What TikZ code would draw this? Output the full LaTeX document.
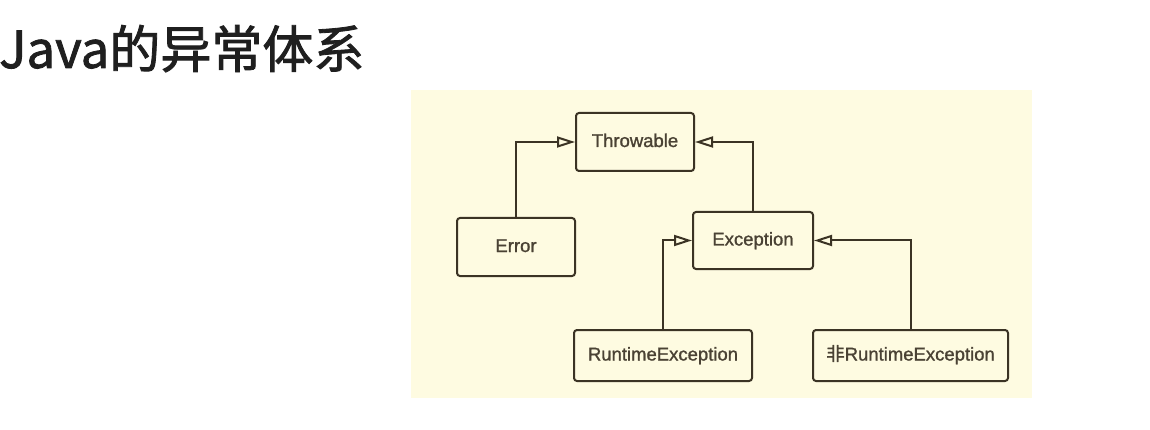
\documentclass[tikz,border=0pt]{standalone}
\usepackage{fontspec}
\setmainfont{Liberation Sans}
\newfontfamily\cjktitle[FakeBold=1.6]{Noto Sans CJK SC}
\newfontfamily\boxfont[FakeBold=1.2]{Liberation Sans}
\newfontfamily\boxcjk[FakeBold=1.0]{Noto Sans CJK SC}
\usetikzlibrary{arrows.meta}
\definecolor{panel}{HTML}{FEFBE1}
\definecolor{boxline}{HTML}{3B3324}
\definecolor{boxtext}{HTML}{4A4234}
\tikzset{
  cls/.style={draw=boxline, line width=2pt, rounded corners=3pt, fill=panel,
    text=boxtext, font=\boxfont\fontsize{18.5}{20}\selectfont, inner sep=0pt,
    text height=13pt, text depth=3pt},
  inherit/.style={draw=boxline, line width=2pt,
    -{Triangle[open, length=18pt, width=11pt, fill=panel, line width=2pt]}}
}
\begin{document}
\begin{tikzpicture}[x=1pt,y=-1pt]
\useasboundingbox (0,0) rectangle (1150,430);
\fill[white] (0,0) rectangle (1150,430);
\fill[panel] (411,90) rectangle (1032,398);
\node[anchor=base west, inner sep=0pt, text=black!88, font=\cjktitle\fontsize{51}{57}\selectfont] (title) at (-1,68) {Java的异常体系};
\node[cls, minimum width=118pt, minimum height=58pt] (thr) at (635,142) {Throwable};
\node[cls, minimum width=118pt, minimum height=58pt] (err) at (516,247) {Error};
\node[cls, minimum width=120pt, minimum height=57pt] (exc) at (753,240.5) {Exception};
\node[cls, minimum width=178pt, minimum height=51pt] (rte) at (663,355.5) {RuntimeException};
\node[cls, minimum width=195pt, minimum height=51pt] (nrte) at (910.5,355.5) {{\boxcjk 非}RuntimeException};
\draw[inherit] (err.north) |- (thr.west);
\draw[inherit] (exc.north) |- (thr.east);
\draw[inherit] (rte.north) |- (exc.west);
\draw[inherit] (nrte.north) |- (exc.east);
\end{tikzpicture}
\end{document}
